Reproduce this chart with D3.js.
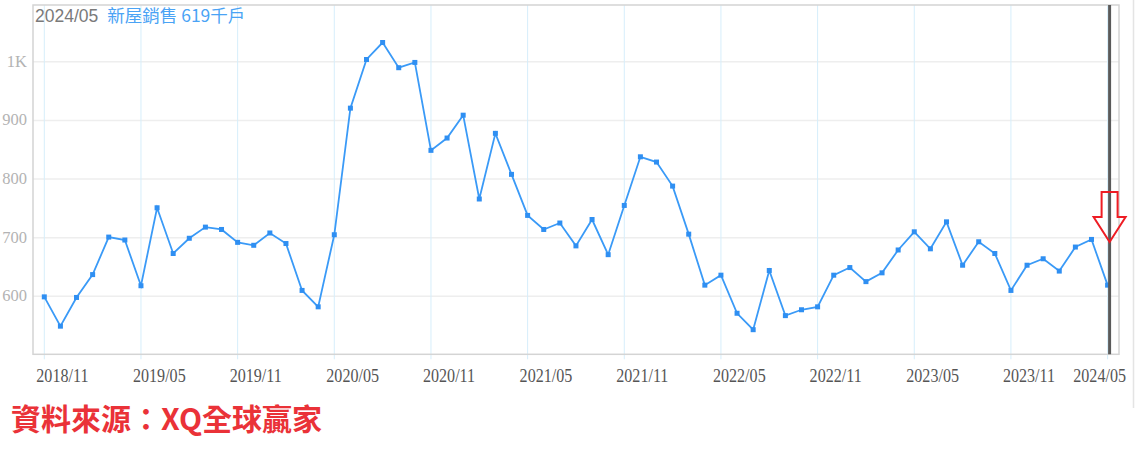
<!DOCTYPE html>
<html><head><meta charset="utf-8">
<script src="https://cdn.jsdelivr.net/npm/d3@7/dist/d3.min.js"></script>
<style>body{margin:0;background:#fff;}svg{display:block;}</style>
</head><body>
<svg id="c" width="1136" height="455"></svg>
<script>
const months = [
 "2018/11","2018/12","2019/01","2019/02","2019/03","2019/04","2019/05","2019/06","2019/07","2019/08","2019/09","2019/10",
 "2019/11","2019/12","2020/01","2020/02","2020/03","2020/04","2020/05","2020/06","2020/07","2020/08","2020/09","2020/10",
 "2020/11","2020/12","2021/01","2021/02","2021/03","2021/04","2021/05","2021/06","2021/07","2021/08","2021/09","2021/10",
 "2021/11","2021/12","2022/01","2022/02","2022/03","2022/04","2022/05","2022/06","2022/07","2022/08","2022/09","2022/10",
 "2022/11","2022/12","2023/01","2023/02","2023/03","2023/04","2023/05","2023/06","2023/07","2023/08","2023/09","2023/10",
 "2023/11","2023/12","2024/01","2024/02","2024/03","2024/04","2024/05"];
const sales = [
 599,549,598,637,701,696,618,751,673,699,718,714,
 692,687,708,690,610,582,705,921,1004,1033,990,999,
 849,870,909,766,878,808,738,714,725,686,731,671,
 755,838,829,788,706,619,636,571,543,644,567,577,
 582,636,649,625,640,679,710,681,727,653,693,673,
 610,653,664,643,684,697,619];
const xTickLabels = ["2018/11","2019/05","2019/11","2020/05","2020/11","2021/05","2021/11","2022/05","2022/11","2023/05","2023/11","2024/05"];
const yTickValues = [600,700,800,900,1000];
const yTickLabels = ["600","700","800","900","1K"];
const titleDate = "2024/05";
const titleSeries = "新屋銷售 619千戶";
const sourceText = "資料來源：XQ全球贏家";

const svg = d3.select("#c");
const L=33, R=1119, T=5, B=354.3;
const x = d3.scaleLinear().domain([0, months.length-1]).range([44.3, 1107.6]);
const y = d3.scaleLinear().domain([501, 1097]).range([B, T]);

svg.append("line").attr("x1",1133.5).attr("x2",1133.5).attr("y1",0).attr("y2",408)
  .attr("stroke","#e4e4e4").attr("stroke-width",1.5);

svg.append("g").selectAll("line").data(yTickValues).join("line")
  .attr("x1",L).attr("x2",R).attr("y1",d=>y(d)).attr("y2",d=>y(d))
  .attr("stroke","#eeeeee").attr("stroke-width",1.5);

const tickIdx = xTickLabels.map(l=>months.indexOf(l));
svg.append("g").selectAll("line").data(tickIdx).join("line")
  .attr("x1",d=>x(d)).attr("x2",d=>x(d)).attr("y1",T).attr("y2",B+5)
  .attr("stroke","#d6eefb").attr("stroke-width",1);

svg.append("rect").attr("x",L).attr("y",T).attr("width",R-L).attr("height",B-T)
  .attr("fill","none").attr("stroke","#d4d4d4").attr("stroke-width",1.5);

svg.append("g").selectAll("text").data(yTickValues).join("text")
  .attr("x",27).attr("y",d=>y(d)+5).attr("text-anchor","end")
  .attr("font-family","Liberation Serif, serif").attr("font-size",16.5)
  .attr("fill","#b3b3b3").text((d,i)=>yTickLabels[i]);

const xl = svg.append("g").selectAll("text").data(tickIdx).join("text")
  .attr("transform",(d,i)=>`translate(${i===tickIdx.length-1 ? 1126 : x(d)-8},382) scale(0.92,1.12)`)
  .attr("text-anchor",(d,i)=> i===tickIdx.length-1 ? "end" : "start")
  .attr("font-family","Liberation Serif, serif").attr("font-size",17.5)
  .attr("fill","#555").text((d,i)=>xTickLabels[i]);

const line = d3.line().x((d,i)=>x(i)).y(d=>y(d));
svg.append("path").datum(sales).attr("d",line)
  .attr("fill","none").attr("stroke","#3a9af7").attr("stroke-width",1.8);
svg.append("g").selectAll("rect").data(sales).join("rect")
  .attr("x",(d,i)=>x(i)-2.5).attr("y",d=>y(d)-2.5).attr("width",5).attr("height",5)
  .attr("fill","#2f8ff2");

const lastX = x(months.length-1)+2;
svg.append("line").attr("x1",lastX).attr("x2",lastX).attr("y1",T).attr("y2",B)
  .attr("stroke","#5a5a5a").attr("stroke-width",3);

const ay = 192, ax = lastX;
const arrow = [[ax-8,ay],[ax+8,ay],[ax+8,ay+25],[ax+16,ay+25],[ax,ay+50],[ax-16,ay+25],[ax-8,ay+25]];
svg.append("path").attr("d","M"+arrow.map(p=>p.join(",")).join("L")+"Z")
  .attr("fill","none").attr("stroke","#ee1c24").attr("stroke-width",2);

const tt = svg.append("text").attr("x",35).attr("y",22)
  .attr("font-family","Liberation Sans, Arial, sans-serif").attr("font-size",17.5);
tt.append("tspan").attr("fill","#7a7a7a").text(titleDate);
tt.append("tspan").attr("fill","#4aa3f5").attr("dx",9).attr("font-family","Noto Sans CJK TC, sans-serif").text(titleSeries);

svg.append("text").attr("x",11).attr("y",430)
  .attr("font-family","Noto Sans CJK TC, sans-serif").attr("font-weight","bold")
  .attr("font-size",30).attr("fill","#ea3238").text(sourceText);
</script>
</body></html>
